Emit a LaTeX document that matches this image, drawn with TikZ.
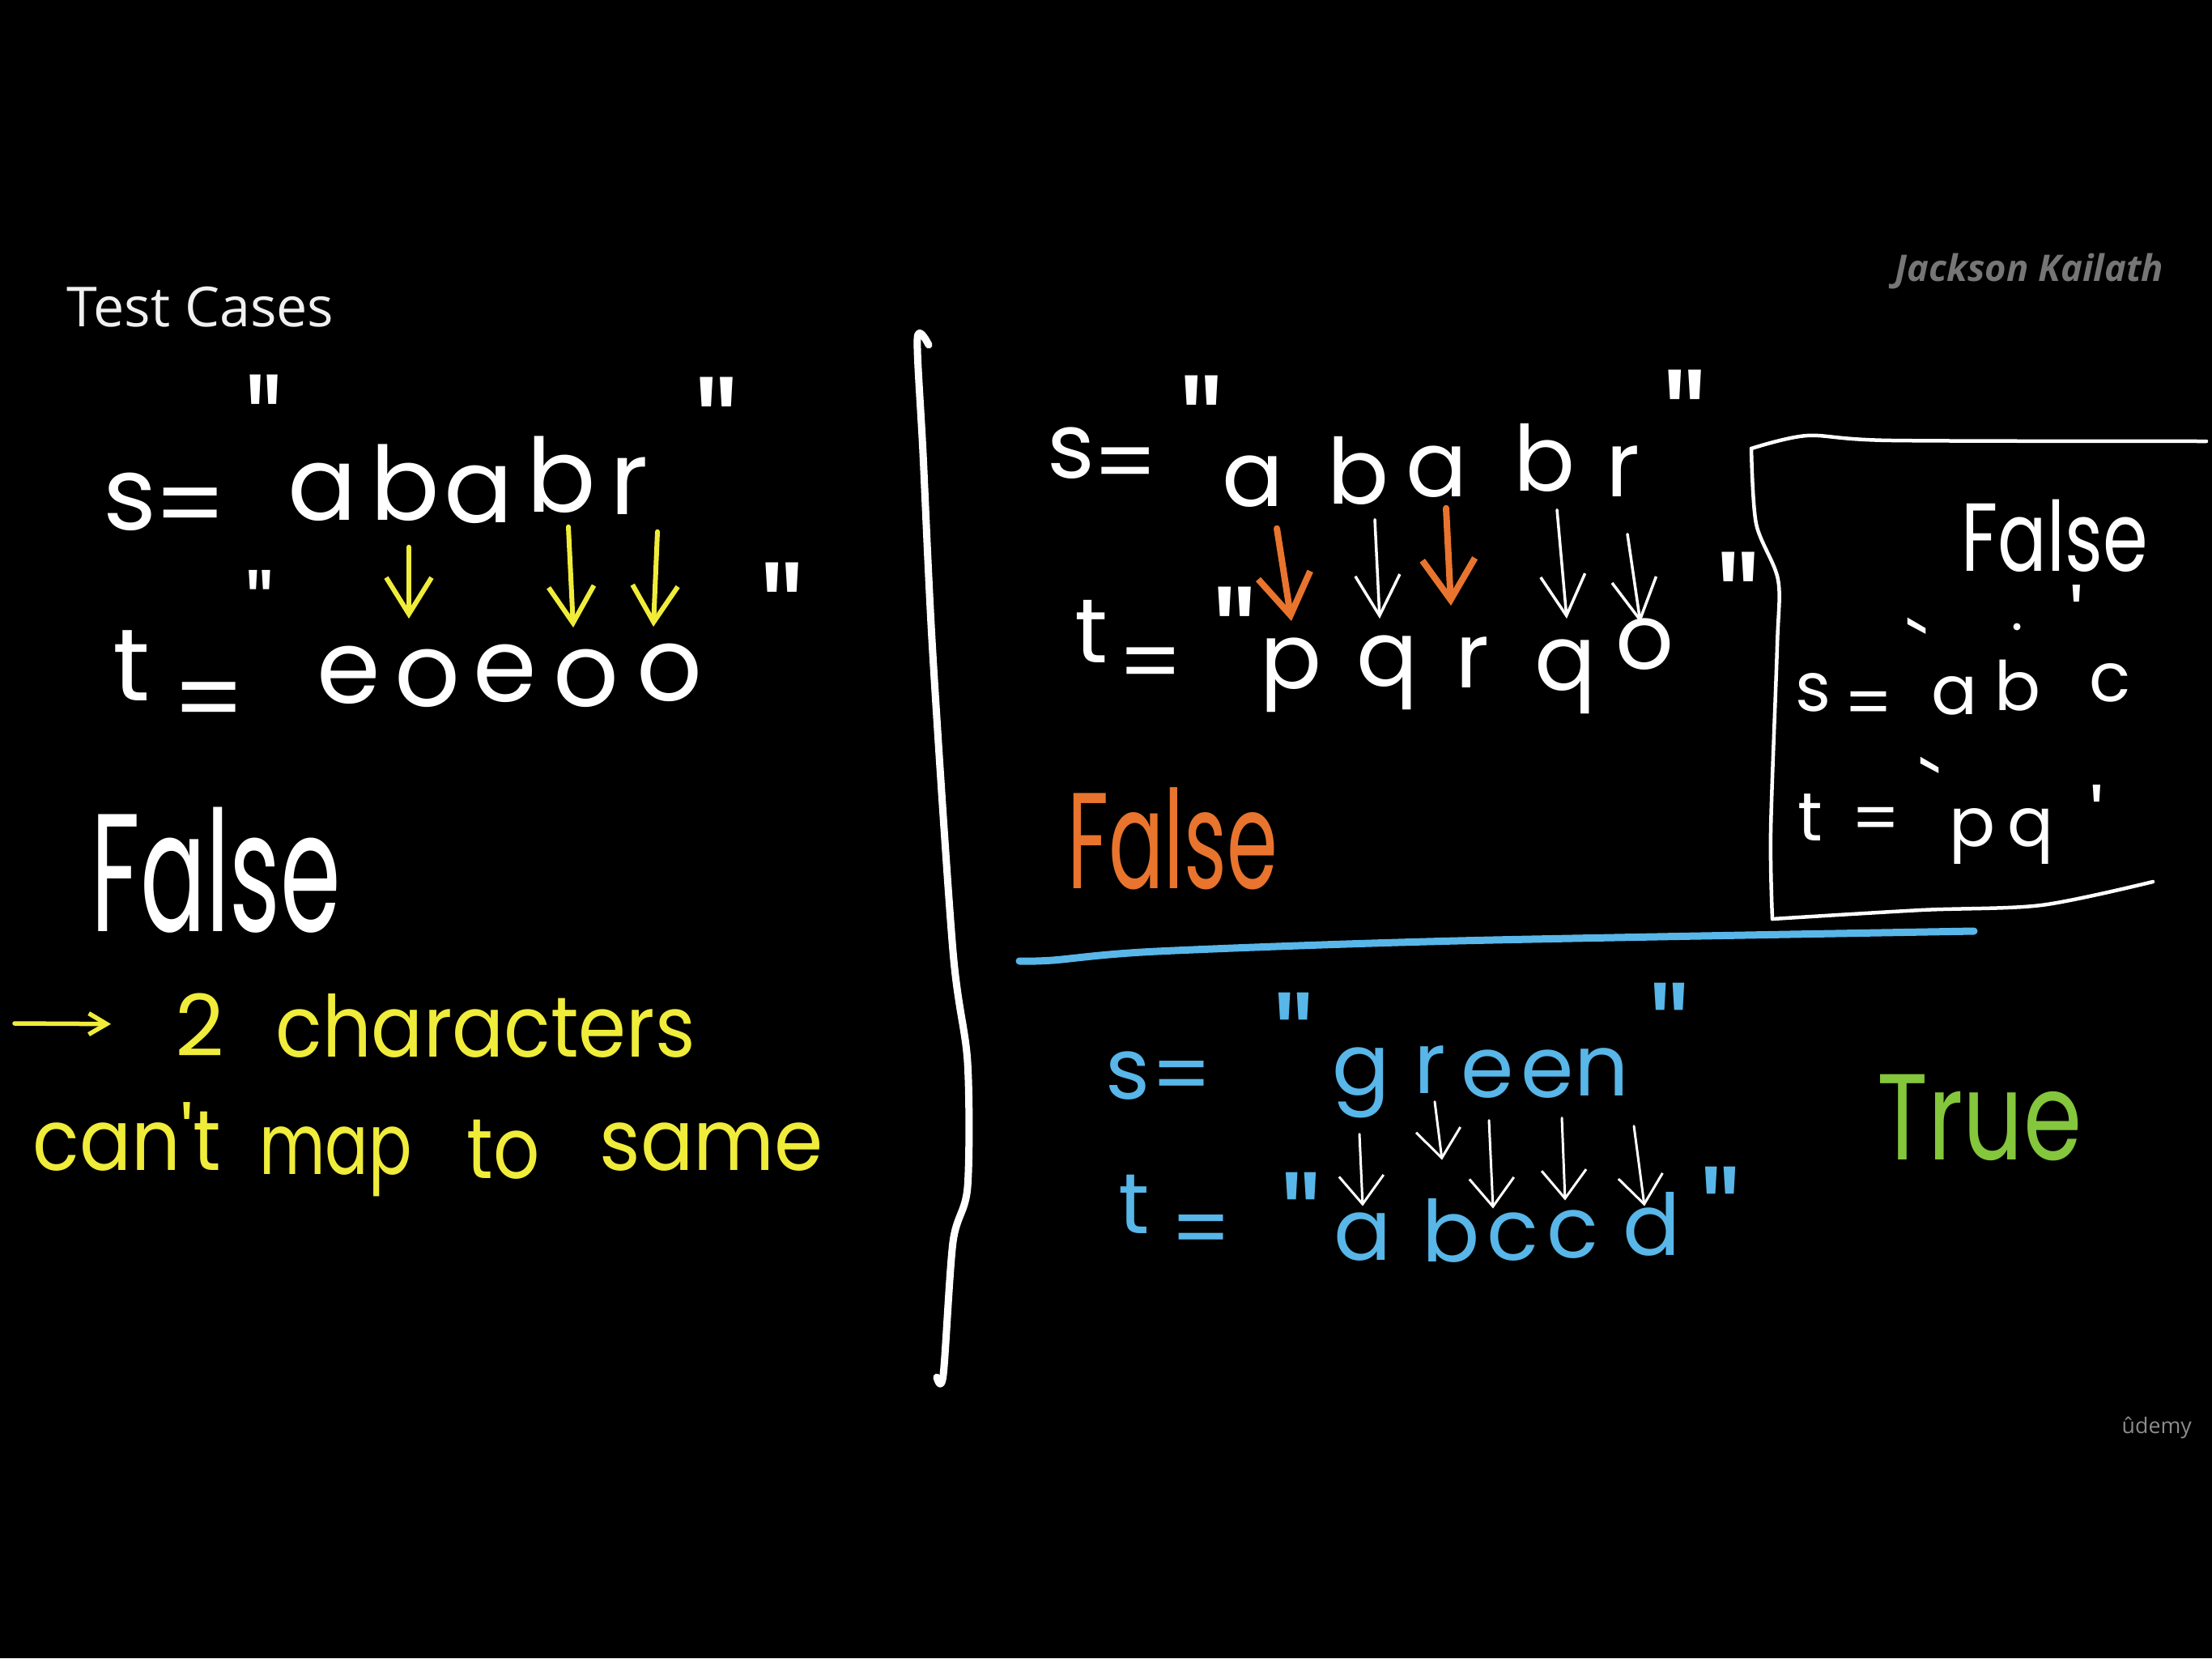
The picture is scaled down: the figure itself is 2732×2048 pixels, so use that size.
\documentclass[tikz,border=0pt]{standalone}
\usepackage{fontspec}
\setmainfont{Open Sans}
\newfontfamily\hw{Poppins}
\newfontfamily\osans{Open Sans}
\usetikzlibrary{arrows.meta}
\definecolor{yel}{RGB}{240,236,58}
\definecolor{org}{RGB}{232,116,46}
\definecolor{sky}{RGB}{88,182,232}
\definecolor{grn}{RGB}{132,198,60}
\definecolor{wm}{RGB}{118,118,118}
\definecolor{ud}{RGB}{140,140,140}
\newcommand{\setfs}[1]{\fontsize{#1}{#1}\selectfont}
\tikzset{
  chL/.style={font=\hw\setfs{36pt}, text=white, anchor=base, inner sep=0pt, text height=20pt, text depth=0pt},
  chR/.style={font=\hw\setfs{32pt}, text=white, anchor=base, inner sep=0pt, text height=18pt, text depth=0pt},
  chB/.style={font=\hw\setfs{30pt}, text=sky, anchor=base, inner sep=0pt, text height=17pt, text depth=0pt},
  chX/.style={font=\hw\setfs{24pt}, text=white, anchor=base, inner sep=0pt, text height=14pt, text depth=0pt},
  topn/.style={anchor=north, inner sep=0pt},
  qmark/.style={topn, font=\hw\setfs{52pt}, text depth=-23pt},
  qsmall/.style={topn, font=\hw\setfs{34pt}, text depth=-15pt},
  qblue/.style={topn, font=\hw\setfs{48pt}, text depth=-21pt, text=sky},
  qgrave/.style={topn, font=\hw\setfs{30pt}, text depth=-15pt, text=white},
  qtick/.style={topn, font=\hw\setfs{30pt}, text depth=-13pt, text=white},
  word/.style={anchor=base west, inner sep=0pt},
  yarr/.style={draw=yel, line width=0.6mm, line cap=round, -{Straight Barb[length=4.5mm,width=5.6mm]}},
  oarr/.style={draw=org, line width=0.8mm, line cap=round, -{Straight Barb[length=5mm,width=6.5mm]}},
  warr/.style={draw=white, line width=0.35mm, line cap=round, -{Straight Barb[length=5mm,width=5.5mm]}},
  wbarr/.style={draw=white, line width=0.3mm, line cap=round, -{Straight Barb[length=3.5mm,width=5.5mm]}},
  pen/.style={line cap=round, line join=round},
}
\begin{document}
\begin{tikzpicture}[x=0.1mm,y=-0.1mm]
\fill[black] (0,0) rectangle (2732,2048);
\useasboundingbox (0,0) rectangle (2732,2048);

% ---------- headings / watermark ----------
\node[word, font=\osans\setfs{19.4pt}, text=white!94!black] (tc) at (82,403) {Test Cases};
\node[word, font=\osans\bfseries\itshape\setfs{12.9pt}, text=wm] (wmk) at (2340,347) {Jackson Kailath};
\node[word, font=\osans\setfs{7.6pt}, text=ud] (udm) at (2620,1770) {ûdemy};

% ---------- divider ----------
\draw[white, line width=0.9mm, pen] plot[smooth] coordinates {(1147,426) (1133,418) (1140,560) (1152,807) (1177,1175) (1195,1312) (1195,1466) (1177,1534) (1165,1698) (1157,1701)};

% ---------- left case ----------
\node[topn, font=\hw\setfs{36pt}, text=white] (ls) at (161,583) {s};
\node[topn, font=\hw\setfs{36pt}, text=white] (leq1) at (235,602) {=};
\node[qmark, text=white, xscale=0.85] (lq1) at (326,462) {"};
\node[chL] (lsa1) at (398,642) {a};
\node[chL] (lsb1) at (500,642) {b};
\node[chL] (lsa2) at (591,645) {a};
\node[chL] (lsb2) at (693,632) {b};
\node[chL] (lsr1) at (777,635) {r};
\node[qmark, text=white] (lq2) at (885,465) {"};

\node[topn, font=\hw\setfs{36pt}, text=white] (lt) at (163,778) {t};
\node[topn, font=\hw\setfs{36pt}, text=white] (leq2) at (258,842) {=};
\node[qsmall, text=white] (lq3) at (321,704) {"};
\node[chL] (lte1) at (431,868) {e};
\node[chL] (lto1) at (528,872) {o};
\node[chL] (lte2) at (624,866) {e};
\node[chL] (lto2) at (724,872) {o};
\node[chL] (lto3) at (827,865) {o};
\node[qmark, text=white] (lq4) at (966,694) {"};

\draw[yarr] ([shift={(5,33)}]lsb1.south) -- ([shift={(-23,-37)}]lto1.north);
\draw[yarr] ([shift={(9,18)}]lsb2.south) -- ([shift={(-16,-26)}]lto2.north);
\draw[yarr] ([shift={(35,21)}]lsr1.south) -- ([shift={(-20,-20)}]lto3.north);

\node[word, font=\hw\setfs{59pt}, text=white, xscale=0.58] (lfalse) at (112,1150) {False};

\coordinate (ytail) at (18,1264);
\node[word, font=\hw\setfs{30pt}, text=yel] (two) at (216,1304) {2};
\draw[draw=yel, line width=0.55mm, line cap=round, shorten >=7.9mm, -{Straight Barb[length=2.2mm,width=2.6mm]}] (ytail) -- (two.west);
\node[word, font=\hw\setfs{30pt}, text=yel, xscale=0.9] (chars) at (340,1305) {characters};
\node[word, font=\hw\setfs{30pt}, text=yel, xscale=0.9] (cant) at (40,1445) {can't};
\node[word, font=\hw\setfs{30pt}, text=yel, xscale=0.75] (map) at (320,1450) {map};
\node[word, font=\hw\setfs{30pt}, text=yel, xscale=0.85] (to) at (576,1455) {to};
\node[word, font=\hw\setfs{30pt}, text=yel, xscale=0.92] (same) at (740,1445) {same};

% ---------- right upper case ----------
\node[topn, font=\hw\setfs{32pt}, text=white] (rs) at (1323,527) {s};
\node[topn, font=\hw\setfs{32pt}, text=white] (req1) at (1390,552) {=};
\node[qmark, text=white] (rq1) at (1484,463) {"};
\node[chR] (rsa1) at (1547,625) {a};
\node[chR] (rsb1) at (1677,622) {b};
\node[chR] (rsa2) at (1774,613) {a};
\node[chR] (rsb2) at (1907,606) {b};
\node[chR] (rsr1) at (2004,613) {r};
\node[qmark, text=white] (rq2) at (2081,456) {"};

\node[topn, font=\hw\setfs{32pt}, text=white] (rt) at (1348,741) {t};
\node[topn, font=\hw\setfs{32pt}, text=white] (req2) at (1421,799) {=};
\node[qmark, text=white] (rq3) at (1525,724) {"};
\node[chR] (rtp) at (1594,850) {p};
\node[chR] (rtq1) at (1713,847) {q};
\node[chR] (rtr) at (1818,849) {r};
\node[chR] (rtq2) at (1933,852) {q};
\node[chR] (rto) at (2031,826) {o};
\node[qmark, text=white] (rq4) at (2147,681) {"};

\draw[oarr] ([shift={(30,27)}]rsa1.south) -- ([shift={(1,-19)}]rtp.north);
\draw[warr] ([shift={(21,19)}]rsb1.south) -- ([shift={(-9,-19)}]rtq1.north);
\draw[oarr] ([shift={(12,14)}]rsa2.south) -- ([shift={(-26,-37)}]rtr.north);
\draw[warr] ([shift={(16,23)}]rsb2.south) -- ([shift={(2,-24)}]rtq2.north);
\draw[warr] ([shift={(6,46)}]rsr1.south) -- ([shift={(-5,7)}]rto.north);

\node[word, font=\hw\setfs{48pt}, text=org, xscale=0.6] (rfalse) at (1318,1097) {False};

% ---------- boxed case ----------
\draw[white, line width=0.45mm, pen] plot[smooth] coordinates {(2725,545) (2336,544) (2232,538) (2163,554)};
\draw[white, line width=0.45mm, pen] plot[smooth] coordinates {(2163,554) (2169,647) (2196,716) (2195,797) (2187,1026) (2189,1135)};
\draw[white, line width=0.45mm, pen] plot[smooth] coordinates {(2189,1135) (2373,1124) (2521,1118) (2659,1089)};

\node[word, font=\hw\setfs{34pt}, text=white, xscale=0.75] (bfalse) at (2422,705) {False};
\node[topn, font=\hw\setfs{24pt}, text=white] (bs) at (2239,831) {s};
\node[topn, font=\hw\setfs{24pt}, text=white] (beq1) at (2308,854) {=};
\node[qgrave] (bq1) at (2368,762) {`};
\node[chX] (bsa) at (2414,882) {a};
\node[chX] (bsb) at (2492,877) {b};
\node[chX] (bsc) at (2606,866) {c};
\node[qtick] (bq2) at (2565,722) {'};
\fill[white] (2491,774) circle[radius=0.45mm];
\node[topn, font=\hw\setfs{24pt}, text=white] (bt) at (2236,980) {t};
\node[topn, font=\hw\setfs{24pt}, text=white] (beq2) at (2317,997) {=};
\node[qgrave] (bq3) at (2384,934) {`};
\node[chX] (btp) at (2436,1045) {p};
\node[chX] (btq) at (2508,1045) {q};
\node[qtick] (bq4) at (2590,969) {'};

% ---------- blue separator ----------
\draw[sky, line width=0.9mm, pen] plot[smooth] coordinates {(1259,1187) (1300,1186) (1429,1175) (1800,1162) (2438,1150)};

% ---------- lower case ----------
\node[topn, font=\hw\setfs{30pt}, text=sky] (gs) at (1393,1298) {s};
\node[topn, font=\hw\setfs{30pt}, text=sky] (geq1) at (1460,1310) {=};
\node[qblue] (gq1) at (1598,1225) {"};
\node[chB] (gsg) at (1681,1352) {g};
\node[chB] (gsr) at (1766,1350) {r};
\node[chB] (gse1) at (1837,1355) {e};
\node[chB] (gse2) at (1911,1355) {e};
\node[chB] (gsn) at (1978,1353) {n};
\node[qblue] (gq2) at (2062,1213) {"};

\node[topn, font=\hw\setfs{30pt}, text=sky] (gt) at (1401,1450) {t};
\node[topn, font=\hw\setfs{30pt}, text=sky] (geq2) at (1484,1500) {=};
\node[qblue] (gq3) at (1607,1447) {"};
\node[chB] (gta) at (1683,1556) {a};
\node[chB] (gtb) at (1792,1558) {b};
\node[chB] (gtc1) at (1868,1556) {c};
\node[chB] (gtc2) at (1942,1553) {c};
\node[chB] (gtd) at (2040,1550) {d};
\node[qblue] (gq4) at (2125,1440) {"};

\draw[wbarr] ([shift={(-2,48)}]gsg.south) -- ([shift={(0,-6)}]gta.north);
\draw[wbarr] ([shift={(6,10)}]gsr.south) -- ([shift={(-11,-65)}]gtb.north);
\draw[wbarr] ([shift={(2,28)}]gse1.south) -- ([shift={(-24,-3)}]gtc1.north);
\draw[wbarr] ([shift={(18,25)}]gse2.south) -- ([shift={(-9,-10)}]gtc2.north);
\draw[wbarr] ([shift={(40,37)}]gsn.south) -- ([shift={(-9,0)}]gtd.north);

\node[word, font=\hw\setfs{43pt}, text=grn, xscale=0.77] (gtrue) at (2318,1432) {True};
\end{tikzpicture}
\end{document}
